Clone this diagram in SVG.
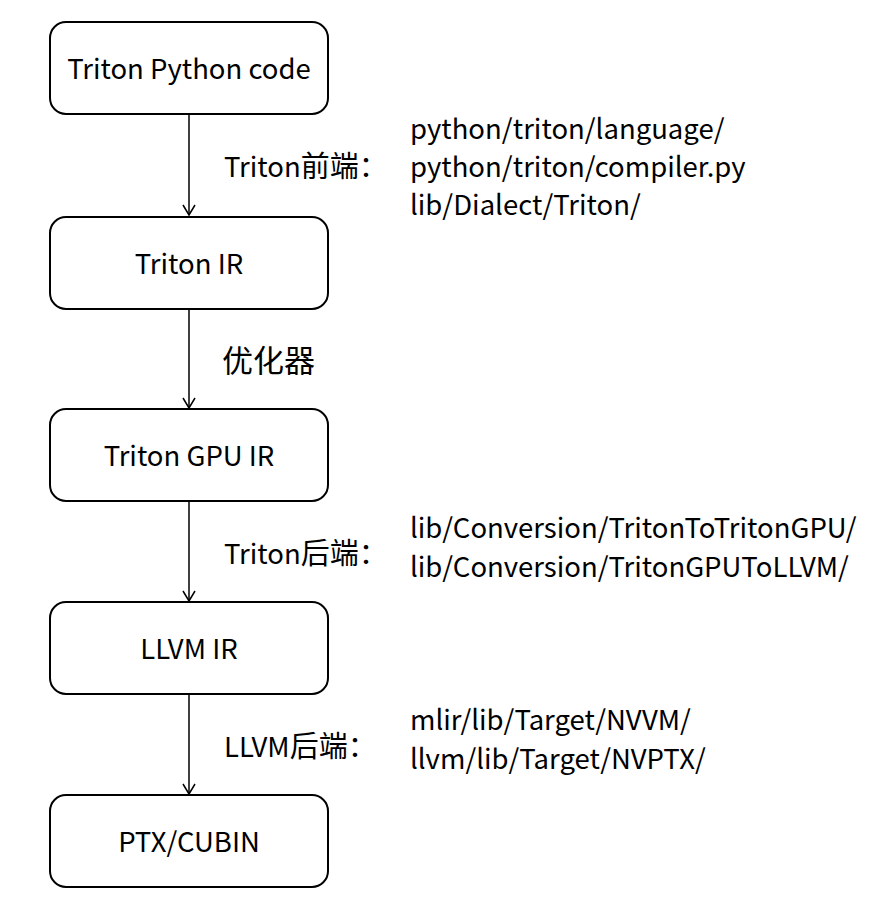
<svg xmlns="http://www.w3.org/2000/svg" width="893" height="916" viewBox="0 0 893 916">
<style>
.box{fill:#fff;stroke:#000;stroke-width:2}
.t{font-family:"Noto Sans CJK SC","Noto Sans",sans-serif;font-size:27.5px;fill:#000}
.c{text-anchor:middle}
.cjk{font-size:29px}
.edge{stroke:#000;stroke-width:1.5;fill:none}
</style>
<defs>
<marker id="ah" markerWidth="14" markerHeight="14" refX="12" refY="7" orient="auto" markerUnits="userSpaceOnUse">
<path d="M2,1 L12,7 L2,13" fill="none" stroke="#000" stroke-width="1.5"/>
</marker>
</defs>
<rect width="893" height="916" fill="#fff"/>
<g id="connectors">
<line class="edge" x1="189" y1="115" x2="189" y2="215" marker-end="url(#ah)"/>
<line class="edge" x1="189" y1="309" x2="189" y2="408" marker-end="url(#ah)"/>
<line class="edge" x1="189" y1="501" x2="189" y2="601" marker-end="url(#ah)"/>
<line class="edge" x1="189" y1="694" x2="189" y2="794" marker-end="url(#ah)"/>
</g>
<g id="n1"><rect class="box" x="50" y="22" width="278" height="92" rx="16"/><text class="t c" x="189" y="79">Triton Python code</text></g>
<g id="n2"><rect class="box" x="50" y="217" width="278" height="92" rx="16"/><text class="t c" x="189" y="274">Triton IR</text></g>
<g id="n3"><rect class="box" x="50" y="409" width="278" height="92" rx="16"/><text class="t c" x="189" y="466">Triton GPU IR</text></g>
<g id="n4"><rect class="box" x="50" y="602" width="278" height="92" rx="16"/><text class="t c" x="189" y="659">LLVM IR</text></g>
<g id="n5"><rect class="box" x="50" y="795" width="278" height="92" rx="16"/><text class="t c" x="189" y="852">PTX/CUBIN</text></g>
<g id="labels">
<text class="t" x="224" y="177">Triton<tspan class="cjk">前端：</tspan></text>
<text class="t" x="410" y="139">python/triton/language/</text>
<text class="t" x="410" y="177">python/triton/compiler.py</text>
<text class="t" x="410" y="215">lib/Dialect/Triton/</text>
<text class="t" x="222" y="372" style="font-size:31px">优化器</text>
<text class="t" x="224" y="564">Triton<tspan class="cjk">后端：</tspan></text>
<text class="t" x="410" y="538">lib/Conversion/TritonToTritonGPU/</text>
<text class="t" x="410" y="577">lib/Conversion/TritonGPUToLLVM/</text>
<text class="t" x="224" y="757">LLVM<tspan class="cjk">后端：</tspan></text>
<text class="t" x="410" y="730">mlir/lib/Target/NVVM/</text>
<text class="t" x="410" y="769">llvm/lib/Target/NVPTX/</text>
</g>
</svg>
